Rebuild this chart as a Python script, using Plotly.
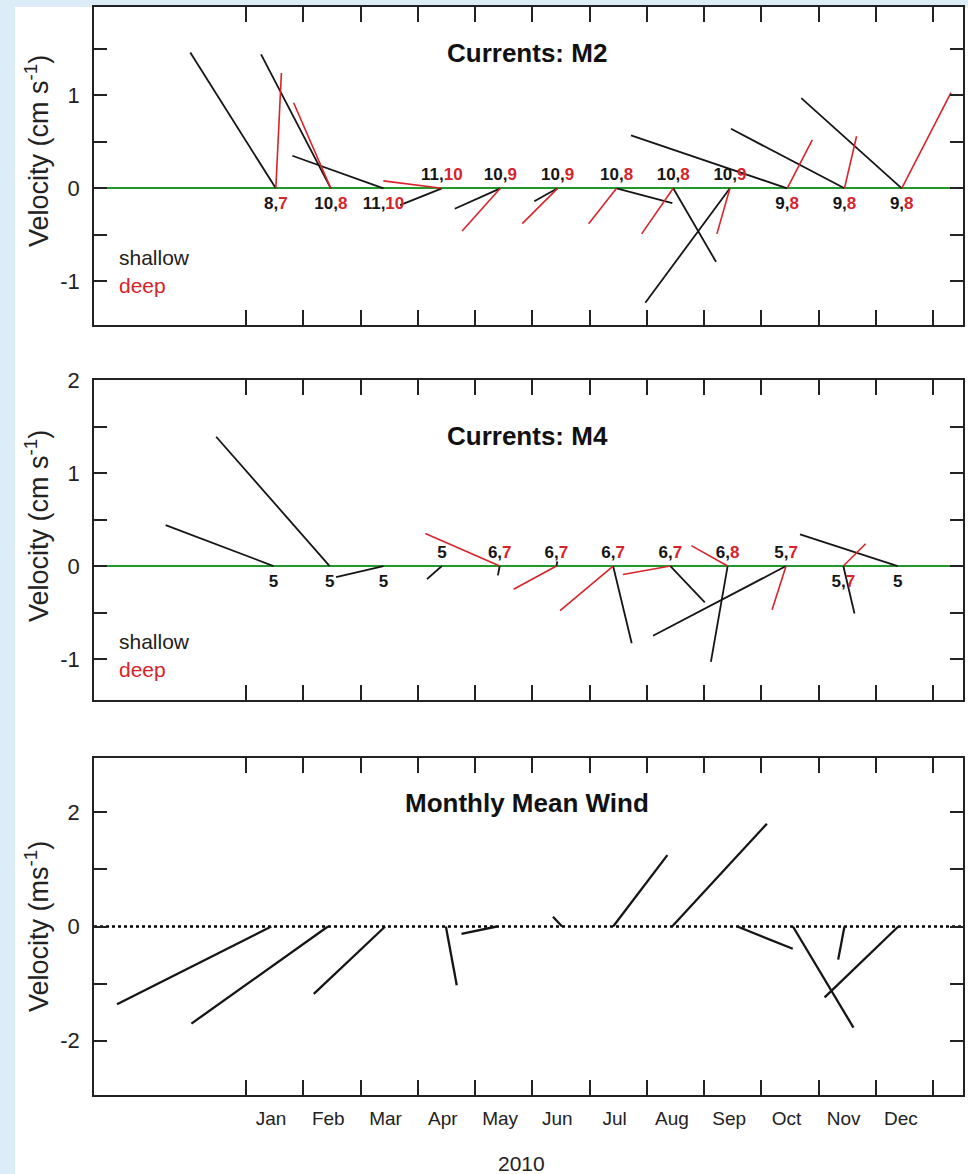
import plotly.graph_objects as go

# ---------------- data ----------------
months = ["Jan", "Feb", "Mar", "Apr", "May", "Jun", "Jul", "Aug", "Sep", "Oct", "Nov", "Dec"]
month_starts = list(range(12))          # 0 = 1 Jan 2010
year_end = [12]                         # 1 Jan 2011

# M2 currents (cm/s), origin times in months since 1 Jan 2010
m2_time = [0.52, 1.48, 2.40, 3.42, 4.44, 5.44, 6.47, 7.46, 8.45, 9.45, 10.45, 11.45]
m2_shallow_u = [-0.92, -0.75, -0.98, -0.45, -0.49, -0.25, 0.60, 0.46, -0.91, -1.68, -1.22, -1.08]
m2_shallow_v = [1.46, 1.44, 0.35, -0.18, -0.22, -0.14, -0.16, -0.79, -1.23, 0.57, 0.64, 0.97]
m2_deep_u = [0.06, -0.40, 0.00, -0.63, -0.41, -0.38, -0.30, -0.34, -0.14, 0.27, 0.13, 0.53]
m2_deep_v = [1.24, 0.92, 0.00, 0.08, -0.46, -0.38, -0.38, -0.49, -0.49, 0.52, 0.56, 1.03]
m2_shallow_n = [8, 10, 11, 11, 10, 10, 10, 10, 10, 9, 9, 9]
m2_deep_n = [7, 8, 10, 10, 9, 9, 8, 8, 9, 8, 8, 8]
m2_label_pos = ["bottom", "bottom", "bottom", "top", "top", "top", "top", "top", "top",
                "bottom", "bottom", "bottom"]

# M4 currents (cm/s)
m4_time = [0.48, 1.46, 2.40, 3.42, 4.43, 5.42, 6.41, 7.41, 8.41, 9.43, 10.43, 11.38]
m4_shallow_u = [-1.16, -1.22, -0.51, -0.16, -0.02, 0.01, 0.20, 0.37, -0.18, -1.43, 0.12, -1.05]
m4_shallow_v = [0.44, 1.39, -0.12, -0.14, -0.10, 0.05, -0.83, -0.39, -1.03, -0.75, -0.51, 0.34]
m4_deep_u = [None, None, None, None, -0.80, -0.46, -0.57, -0.51, -0.39, -0.15, 0.24, None]
m4_deep_v = [None, None, None, None, 0.35, -0.25, -0.48, -0.09, 0.22, -0.47, 0.24, None]
m4_shallow_n = [5, 5, 5, 5, 6, 6, 6, 6, 6, 5, 5, 5]
m4_deep_n = [None, None, None, None, 7, 7, 7, 7, 8, 7, 7, None]
m4_label_pos = ["bottom", "bottom", "bottom", "top", "top", "top", "top", "top", "top", "top",
                "bottom", "bottom"]

# Monthly mean wind (m/s)
wind_time = [0.44, 1.43, 2.43, 3.49, 4.38, 5.52, 6.41, 7.44, 8.58, 9.55, 10.45, 11.39]
wind_u = [-2.70, -2.39, -1.25, 0.19, -0.62, -0.16, 0.95, 1.66, 0.97, 1.06, -0.11, -1.29]
wind_v = [-1.36, -1.70, -1.18, -1.03, -0.13, 0.17, 1.25, 1.80, -0.39, -1.77, -0.58, -1.24]

# axis tick values
cur_major = [-1, 0, 1, 2]
cur_minor = [-1.5, -0.5, 0.5, 1.5]
wind_major = [-2, 0, 2]
wind_minor = [-1, 1]

# ---------------- layout geometry (pixels) ----------------
W, H = 968, 1174
X_LEFT, X_RIGHT = 94, 963
X_RANGE = [-2.655, 12.52]
PANELS = [
    dict(top=7, bottom=325, yr=[-1.47, 1.95]),
    dict(top=380, bottom=700, yr=[-1.44, 2.00]),
    dict(top=758, bottom=1095, yr=[-2.95, 2.95]),
]
BLACK = "#151515"
RED = "#d8232a"
GREEN = "#1f9a2a"
FONT = "Liberation Sans, Arial, Helvetica, sans-serif"

px_per_month = (X_RIGHT - X_LEFT) / (X_RANGE[1] - X_RANGE[0])


def aspect_k(p):
    px_per_unit = (p["bottom"] - p["top"]) / (p["yr"][1] - p["yr"][0])
    return px_per_unit / px_per_month


def sticks(t, u, v, k):
    xs, ys = [], []
    for ti, ui, vi in zip(t, u, v):
        if ui is None or vi is None:
            continue
        xs += [ti, ti + ui * k, None]
        ys += [0, vi, None]
    return xs, ys


def labels(sn, dn):
    out = []
    for s, d in zip(sn, dn):
        if d is None:
            out.append(f"<b>{s}</b>")
        else:
            out.append(f"<b>{s},<span style='color:{RED}'>{d}</span></b>")
    return out


def label_trace(t, sn, dn, pos, xa, ya):
    return go.Scatter(
        x=t, y=[0] * len(t), mode="markers+text",
        marker=dict(size=[5 if p == "top" else 11 for p in pos], opacity=0, color="white"),
        text=labels(sn, dn), textposition=[p + " center" for p in pos],
        textfont=dict(family=FONT, size=17, color=BLACK),
        xaxis=xa, yaxis=ya, showlegend=False, hoverinfo="skip")


fig = go.Figure()

# Panel 1: M2
k1 = aspect_k(PANELS[0])
x, y = sticks(m2_time, m2_shallow_u, m2_shallow_v, k1)
fig.add_trace(go.Scatter(x=x, y=y, mode="lines", line=dict(color=BLACK, width=1.8),
                         xaxis="x", yaxis="y", name="shallow", showlegend=False))
x, y = sticks(m2_time, m2_deep_u, m2_deep_v, k1)
fig.add_trace(go.Scatter(x=x, y=y, mode="lines", line=dict(color=RED, width=1.6),
                         xaxis="x", yaxis="y", name="deep", showlegend=False))
fig.add_trace(label_trace(m2_time, m2_shallow_n, m2_deep_n, m2_label_pos, "x", "y"))

# Panel 2: M4
k2 = aspect_k(PANELS[1])
x, y = sticks(m4_time, m4_shallow_u, m4_shallow_v, k2)
fig.add_trace(go.Scatter(x=x, y=y, mode="lines", line=dict(color=BLACK, width=1.8),
                         xaxis="x2", yaxis="y2", name="shallow", showlegend=False))
x, y = sticks(m4_time, m4_deep_u, m4_deep_v, k2)
fig.add_trace(go.Scatter(x=x, y=y, mode="lines", line=dict(color=RED, width=1.6),
                         xaxis="x2", yaxis="y2", name="deep", showlegend=False))
fig.add_trace(label_trace(m4_time, m4_shallow_n, m4_deep_n, m4_label_pos, "x2", "y2"))

# Panel 3: wind
k3 = aspect_k(PANELS[2])
x, y = sticks(wind_time, wind_u, wind_v, k3)
fig.add_trace(go.Scatter(x=x, y=y, mode="lines", line=dict(color=BLACK, width=2.3),
                         xaxis="x3", yaxis="y3", name="wind", showlegend=False))


def ydom(p):
    return [1 - p["bottom"] / H, 1 - p["top"] / H]


xdom = [X_LEFT / W, X_RIGHT / W]
axis_common = dict(showgrid=False, showline=True, linecolor="#222", linewidth=1.5,
                   mirror="ticks", ticks="inside", tickcolor="#222", tickwidth=1.5,
                   automargin=False)

layout = dict(width=W, height=H, margin=dict(l=0, r=0, t=0, b=0),
              paper_bgcolor="white", plot_bgcolor="white", showlegend=False,
              font=dict(family=FONT, color="#222"))

for i, p in enumerate(PANELS):
    sx = "" if i == 0 else str(i + 1)
    xa = dict(axis_common, domain=xdom, range=X_RANGE, tickmode="array",
              tickvals=month_starts, ticklen=15, zeroline=False, anchor="y" + sx,
              minor=dict(tickmode="array", tickvals=year_end, ticks="inside", ticklen=15,
                         tickwidth=1.5, tickcolor="#222", showgrid=False))
    if i == 2:
        xa.update(showticklabels=True, ticktext=months, ticklabelshift=25,
                  ticklabelstandoff=5, tickfont=dict(family=FONT, size=19, color="#222"))
    else:
        xa.update(showticklabels=False)
    if i < 2:
        ya = dict(zeroline=True, zerolinecolor=GREEN, zerolinewidth=2.2,
                  tickvals=cur_major, ticktext=[str(v) for v in cur_major],
                  minor=dict(tickmode="array", tickvals=cur_minor, ticks="inside", ticklen=13,
                             tickwidth=1.5, tickcolor="#222", showgrid=False))
    else:
        ya = dict(zeroline=False,
                  tickvals=wind_major, ticktext=[str(v) for v in wind_major],
                  minor=dict(tickmode="array", tickvals=wind_minor, ticks="inside", ticklen=13,
                             tickwidth=1.5, tickcolor="#222", showgrid=False))
    ya.update(axis_common, domain=ydom(p), range=p["yr"], tickmode="array",
              ticklen=13, ticklabelstandoff=8, anchor="x" + sx,
              tickfont=dict(family=FONT, size=22, color="#222"))
    layout["xaxis" + sx] = xa
    layout["yaxis" + sx] = ya

fig.update_layout(**layout)

# dotted zero line for wind panel
fig.add_shape(type="line", xref="x3 domain", yref="y3", x0=0, x1=1, y0=0, y1=0,
              line=dict(color="black", width=2.6, dash="dot"), layer="below")

# page background bands (light blue slide background)
BG = "#dcedf8"
fig.add_shape(type="rect", xref="paper", yref="paper", x0=0, x1=15 / W, y0=0, y1=1,
              fillcolor=BG, line=dict(width=0), layer="below")
fig.add_shape(type="rect", xref="paper", yref="paper", x0=0, x1=1, y0=1 - 7 / H, y1=1,
              fillcolor=BG, line=dict(width=0), layer="below")


def ann(text, xpx, ypx, **kw):
    d = dict(text=text, x=xpx / W, y=1 - ypx / H, xref="paper", yref="paper",
             showarrow=False, xanchor="center", yanchor="middle")
    d.update(kw)
    fig.add_annotation(**d)


titles = ["Currents: M2", "Currents: M4", "Monthly Mean Wind"]
title_y = [53, 436, 803]
for t, yy in zip(titles, title_y):
    ann(f"<b>{t}</b>", 527, yy, font=dict(family=FONT, size=26, color="#111"))

ytitles = ["Velocity (cm s<sup>-1</sup>)", "Velocity (cm s<sup>-1</sup>)",
           "Velocity (ms<sup>-1</sup>)"]
ytitle_y = [151, 526, 927]
for t, yy in zip(ytitles, ytitle_y):
    ann(t, 37, yy, textangle=-90, font=dict(family=FONT, size=27, color="#222"))

legend_y = [(257, 285), (641, 669)]
for ys, yd in legend_y:
    ann("shallow", 117, ys, xanchor="left", font=dict(family=FONT, size=21, color="#222"))
    ann("deep", 117, yd, xanchor="left", font=dict(family=FONT, size=21, color=RED))

ann("2010", 521, 1163, font=dict(family=FONT, size=21, color="#222"))

fig.write_html("out.html")
